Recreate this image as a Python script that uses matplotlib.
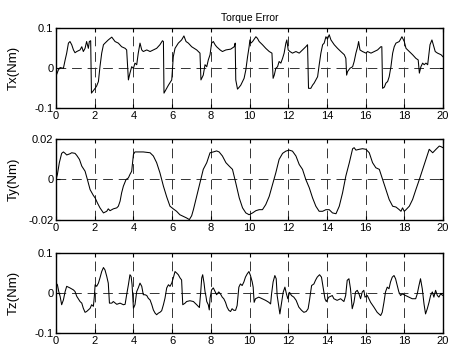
import matplotlib
matplotlib.use('Agg')
import matplotlib.pyplot as plt

# Tx error (time s, torque Nm)
tx_t = [0.00, 0.12, 0.21, 0.38, 0.47, 0.55, 0.64, 0.72, 0.81, 0.90, 0.98, 1.07, 1.24, 1.33, 1.41, 1.50,
        1.58, 1.67, 1.72, 1.79, 1.83, 2.02, 2.10, 2.19, 2.27, 2.36, 2.45, 2.53, 2.70, 2.88, 2.96, 3.05,
        3.22, 3.39, 3.57, 3.65, 3.74, 3.82, 3.91, 4.00, 4.08, 4.17, 4.25, 4.34, 4.43, 4.51, 4.69, 4.86,
        5.03, 5.20, 5.37, 5.50, 5.55, 5.58, 5.72, 5.81, 5.98, 6.06, 6.15, 6.32, 6.49, 6.61, 6.72, 6.84,
        7.01, 7.27, 7.44, 7.49, 7.61, 7.70, 7.79, 7.87, 7.96, 8.04, 8.13, 8.22, 8.30, 8.48, 8.60, 8.78,
        9.03, 9.21, 9.26, 9.29, 9.38, 9.47, 9.55, 9.64, 9.72, 9.81, 9.90, 9.98, 10.02, 10.07, 10.16, 10.33,
        10.41, 10.50, 10.67, 10.84, 11.02, 11.16, 11.22, 11.28, 11.36, 11.45, 11.53, 11.62, 11.71, 11.79, 11.88, 11.93,
        12.00, 12.09, 12.22, 12.40, 12.57, 12.74, 12.91, 13.00, 13.05, 13.17, 13.26, 13.34, 13.43, 13.52, 13.60, 13.69,
        13.78, 13.86, 13.95, 14.03, 14.12, 14.21, 14.38, 14.55, 14.72, 14.90, 14.98, 15.02, 15.07, 15.19, 15.33, 15.41,
        15.50, 15.59, 15.64, 15.71, 15.84, 16.02, 16.10, 16.28, 16.45, 16.62, 16.79, 16.84, 16.88, 16.97, 17.05, 17.14,
        17.22, 17.31, 17.40, 17.48, 17.57, 17.74, 17.88, 18.00, 18.09, 18.26, 18.43, 18.60, 18.72, 18.78, 18.86, 18.95,
        19.03, 19.12, 19.21, 19.26, 19.33, 19.43, 19.50, 19.60, 19.72, 19.90, 20.00]
tx_v = [-0.020, -0.005, 0.001, -0.001, 0.020, 0.037, 0.062, 0.066, 0.058, 0.045, 0.038, 0.041, 0.045, 0.053, 0.041, 0.049,
        0.066, 0.049, 0.066, 0.068, -0.063, -0.051, -0.045, -0.034, 0.003, 0.037, 0.058, 0.062, 0.070, 0.077, 0.072, 0.066,
        0.062, 0.053, 0.049, 0.045, -0.030, -0.013, 0.003, -0.001, 0.012, 0.008, 0.037, 0.062, 0.045, 0.041, 0.045, 0.041,
        0.045, 0.049, 0.058, 0.068, 0.066, -0.063, -0.051, -0.043, -0.030, 0.028, 0.049, 0.062, 0.070, 0.080, 0.066, 0.062,
        0.053, 0.045, 0.037, -0.030, -0.018, 0.008, 0.003, 0.020, 0.033, 0.062, 0.066, 0.058, 0.053, 0.045, 0.041, 0.045,
        0.047, 0.053, 0.062, -0.030, -0.053, -0.048, -0.043, -0.034, -0.026, -0.005, 0.028, 0.053, 0.070, 0.062, 0.066, 0.078,
        0.074, 0.066, 0.058, 0.049, 0.041, 0.037, -0.026, -0.018, -0.001, 0.003, 0.016, 0.012, 0.024, 0.037, 0.062, 0.070,
        0.045, 0.041, 0.037, 0.041, 0.037, 0.045, 0.053, 0.058, -0.051, -0.051, -0.043, -0.038, -0.030, -0.022, 0.007, 0.037,
        0.058, 0.062, 0.078, 0.072, 0.083, 0.070, 0.058, 0.049, 0.041, 0.033, 0.024, -0.018, -0.009, -0.001, 0.003, 0.016,
        0.037, 0.053, 0.066, 0.045, 0.041, 0.037, 0.041, 0.037, 0.041, 0.045, 0.053, 0.053, -0.051, -0.048, -0.038, -0.034,
        -0.022, 0.003, 0.037, 0.053, 0.062, 0.066, 0.078, 0.066, 0.049, 0.041, 0.033, 0.024, 0.020, -0.013, 0.003, 0.012,
        0.008, 0.012, 0.008, 0.028, 0.058, 0.070, 0.058, 0.041, 0.037, 0.033, 0.028]

# Ty error
ty_t = [0.00, 0.07, 0.17, 0.29, 0.38, 0.47, 0.55, 0.72, 0.81, 0.98, 1.07, 1.21, 1.33, 1.50, 1.62, 1.76,
        1.93, 2.02, 2.14, 2.27, 2.45, 2.62, 2.70, 2.79, 2.96, 3.14, 3.22, 3.31, 3.39, 3.48, 3.62, 3.74,
        3.82, 3.91, 4.00, 4.08, 4.25, 4.51, 4.86, 5.03, 5.20, 5.37, 5.55, 5.72, 5.89, 6.06, 6.23, 6.40,
        6.58, 6.75, 6.89, 7.01, 7.10, 7.27, 7.44, 7.61, 7.79, 7.96, 8.13, 8.30, 8.43, 8.60, 8.78, 8.95,
        9.12, 9.29, 9.47, 9.64, 9.81, 9.98, 10.16, 10.33, 10.50, 10.67, 10.84, 11.02, 11.19, 11.36, 11.53, 11.71,
        11.88, 12.05, 12.22, 12.40, 12.57, 12.74, 12.91, 13.09, 13.26, 13.43, 13.60, 13.78, 13.95, 14.12, 14.29, 14.47,
        14.64, 14.81, 14.98, 15.16, 15.33, 15.41, 15.50, 15.67, 15.84, 16.02, 16.19, 16.36, 16.53, 16.71, 16.88, 17.05,
        17.22, 17.40, 17.57, 17.74, 17.83, 17.91, 18.00, 18.09, 18.26, 18.43, 18.60, 18.78, 18.95, 19.12, 19.29, 19.47,
        19.64, 19.81, 19.90, 20.00]
ty_v = [0.0000, 0.0025, 0.0083, 0.0129, 0.0136, 0.0129, 0.0121, 0.0127, 0.0132, 0.0129, 0.0119, 0.0099, 0.0066, 0.0041, 0.0000, -0.0050,
        -0.0079, -0.0091, -0.0116, -0.0140, -0.0165, -0.0157, -0.0145, -0.0154, -0.0145, -0.0140, -0.0132, -0.0107, -0.0066, -0.0033, 0.0000, 0.0008,
        0.0025, 0.0041, 0.0124, 0.0136, 0.0136, 0.0136, 0.0132, 0.0116, 0.0083, 0.0033, -0.0033, -0.0086, -0.0132, -0.0145, -0.0157, -0.0174,
        -0.0182, -0.0190, -0.0198, -0.0179, -0.0149, -0.0083, -0.0017, 0.0050, 0.0083, 0.0132, 0.0136, 0.0141, 0.0136, 0.0116, 0.0083, 0.0066,
        0.0050, -0.0017, -0.0091, -0.0140, -0.0165, -0.0174, -0.0165, -0.0154, -0.0149, -0.0149, -0.0124, -0.0083, -0.0025, 0.0033, 0.0099, 0.0129,
        0.0140, 0.0145, 0.0140, 0.0116, 0.0074, 0.0050, 0.0000, -0.0041, -0.0091, -0.0132, -0.0157, -0.0157, -0.0149, -0.0149, -0.0165, -0.0169,
        -0.0132, -0.0066, 0.0017, 0.0083, 0.0152, 0.0157, 0.0145, 0.0149, 0.0152, 0.0149, 0.0132, 0.0083, 0.0058, 0.0050, 0.0000, -0.0050,
        -0.0099, -0.0132, -0.0136, -0.0149, -0.0157, -0.0140, -0.0157, -0.0149, -0.0132, -0.0099, -0.0050, 0.0000, 0.0050, 0.0099, 0.0149, 0.0132,
        0.0149, 0.0165, 0.0162, 0.0157]

# Tz error
tz_t = [0.00, 0.07, 0.14, 0.21, 0.29, 0.38, 0.47, 0.55, 0.72, 0.90, 0.98, 1.07, 1.24, 1.33, 1.41, 1.50,
        1.58, 1.67, 1.76, 1.84, 1.93, 1.98, 2.02, 2.10, 2.19, 2.27, 2.36, 2.45, 2.53, 2.62, 2.70, 2.76,
        2.88, 2.96, 3.14, 3.31, 3.48, 3.57, 3.65, 3.74, 3.82, 3.88, 3.93, 4.00, 4.08, 4.17, 4.25, 4.34,
        4.43, 4.51, 4.60, 4.69, 4.77, 4.86, 4.95, 5.03, 5.12, 5.20, 5.29, 5.37, 5.46, 5.55, 5.63, 5.72,
        5.81, 5.89, 5.98, 6.06, 6.15, 6.24, 6.32, 6.41, 6.49, 6.55, 6.67, 6.75, 6.92, 7.10, 7.27, 7.41,
        7.48, 7.53, 7.58, 7.65, 7.70, 7.75, 7.79, 7.87, 7.92, 7.96, 8.04, 8.13, 8.22, 8.30, 8.41, 8.50,
        8.59, 8.67, 8.76, 8.84, 8.93, 9.02, 9.10, 9.19, 9.28, 9.36, 9.45, 9.53, 9.62, 9.71, 9.79, 9.88,
        9.97, 10.05, 10.14, 10.19, 10.24, 10.31, 10.48, 10.66, 10.83, 11.00, 11.09, 11.14, 11.22, 11.31, 11.38, 11.43,
        11.52, 11.57, 11.66, 11.74, 11.83, 11.91, 11.98, 12.07, 12.17, 12.29, 12.41, 12.55, 12.69, 12.81, 12.93, 13.03,
        13.10, 13.21, 13.33, 13.41, 13.50, 13.62, 13.72, 13.79, 13.90, 13.97, 14.10, 14.28, 14.36, 14.53, 14.71, 14.88,
        14.97, 15.05, 15.14, 15.22, 15.31, 15.40, 15.48, 15.57, 15.66, 15.74, 15.83, 15.91, 15.97, 16.09, 16.26, 16.43,
        16.60, 16.78, 16.86, 16.95, 17.03, 17.12, 17.21, 17.29, 17.38, 17.47, 17.55, 17.64, 17.72, 17.81, 17.90, 18.07,
        18.24, 18.41, 18.59, 18.67, 18.76, 18.84, 18.93, 19.02, 19.10, 19.19, 19.28, 19.36, 19.45, 19.53, 19.62, 19.71,
        19.79, 19.88, 20.00]
tz_v = [0.025, 0.021, 0.004, -0.008, -0.029, -0.017, 0.004, 0.017, 0.013, 0.008, 0.004, -0.008, -0.021, -0.025, -0.038, -0.048,
        -0.046, -0.042, -0.038, -0.029, -0.033, -0.008, 0.021, 0.017, 0.025, 0.038, 0.054, 0.064, 0.058, 0.042, 0.025, -0.025,
        -0.025, -0.021, -0.028, -0.025, -0.029, -0.028, -0.004, 0.021, 0.046, 0.042, 0.021, -0.038, -0.029, 0.004, 0.013, 0.025,
        0.017, -0.004, -0.004, -0.006, -0.013, -0.017, -0.029, -0.042, -0.050, -0.054, -0.050, -0.048, -0.044, -0.029, -0.013, 0.013,
        0.021, 0.017, 0.025, 0.038, 0.054, 0.050, 0.046, 0.038, 0.033, -0.029, -0.025, -0.021, -0.019, -0.021, -0.029, -0.036,
        0.004, 0.038, 0.046, 0.025, 0.004, -0.008, -0.021, -0.029, -0.042, -0.013, 0.008, 0.013, 0.004, -0.004, 0.003, -0.002,
        -0.010, -0.014, -0.023, -0.035, -0.043, -0.046, -0.039, -0.043, -0.043, -0.031, 0.015, 0.023, 0.019, 0.028, 0.040, 0.048,
        0.054, 0.044, 0.028, 0.015, -0.023, -0.014, -0.010, -0.014, -0.018, -0.023, -0.027, -0.002, 0.028, 0.044, 0.036, -0.006,
        -0.035, -0.052, -0.023, 0.002, 0.015, -0.002, -0.014, 0.002, -0.006, -0.010, -0.018, -0.035, -0.043, -0.048, -0.046, -0.039,
        -0.018, 0.019, 0.023, 0.032, 0.040, 0.046, 0.040, 0.019, -0.014, -0.021, -0.010, -0.006, -0.014, -0.018, -0.014, -0.021,
        -0.006, 0.032, 0.036, 0.011, -0.039, -0.023, 0.003, 0.007, -0.002, -0.014, 0.003, 0.007, -0.010, -0.006, -0.023, -0.035,
        -0.048, -0.056, -0.048, -0.023, 0.003, 0.015, 0.011, 0.028, 0.040, 0.044, 0.036, 0.019, 0.003, -0.006, -0.002, -0.006,
        -0.010, -0.014, -0.014, -0.002, 0.019, 0.036, 0.011, -0.027, -0.052, -0.039, -0.023, -0.006, 0.003, -0.010, 0.007, -0.006,
        -0.010, -0.002, -0.006]

xticks = list(range(0, 21, 2))
plt.rcParams['font.family'] = ['Liberation Sans', 'DejaVu Sans']

fig = plt.figure(figsize=(4.52, 3.47), dpi=100)
panels = [
    (tx_t, tx_v, [-0.1, 0, 0.1], ['-0.1', '0', '0.1'], 'Tx(Nm)', [0.124, 0.689, 0.856, 0.2305]),
    (ty_t, ty_v, [-0.02, 0, 0.02], ['-0.02', '0', '0.02'], 'Ty(Nm)', [0.124, 0.366, 0.856, 0.2335]),
    (tz_t, tz_v, [-0.1, 0, 0.1], ['-0.1', '0', '0.1'], 'Tz(Nm)', [0.124, 0.040, 0.856, 0.2305]),
]

for i, (t, v, yt, ylab, name, pos) in enumerate(panels):
    ax = fig.add_axes(pos)
    ax.plot(t, v, color='black', lw=0.75)
    ax.set_xlim(0, 20)
    ax.set_ylim(yt[0], yt[-1])
    ax.set_xticks(xticks)
    ax.set_xticklabels([str(x) for x in xticks])
    ax.set_yticks(yt)
    ax.set_yticklabels(ylab)
    ax.tick_params(direction='in', top=True, right=True, length=3, width=0.8,
                   labelsize=8, pad=2)
    ax.grid(True, color='#333333', linestyle=(0, (10, 6)), lw=0.7)
    for s in ax.spines.values():
        s.set_linewidth(1.0)
    ax.set_ylabel(name, fontsize=9.5)
    ax.yaxis.set_label_coords(-0.095, 0.5)
    if i == 0:
        ax.set_title('Torque Error', fontsize=7.5, pad=5)

fig.savefig('out.png', dpi=100)
